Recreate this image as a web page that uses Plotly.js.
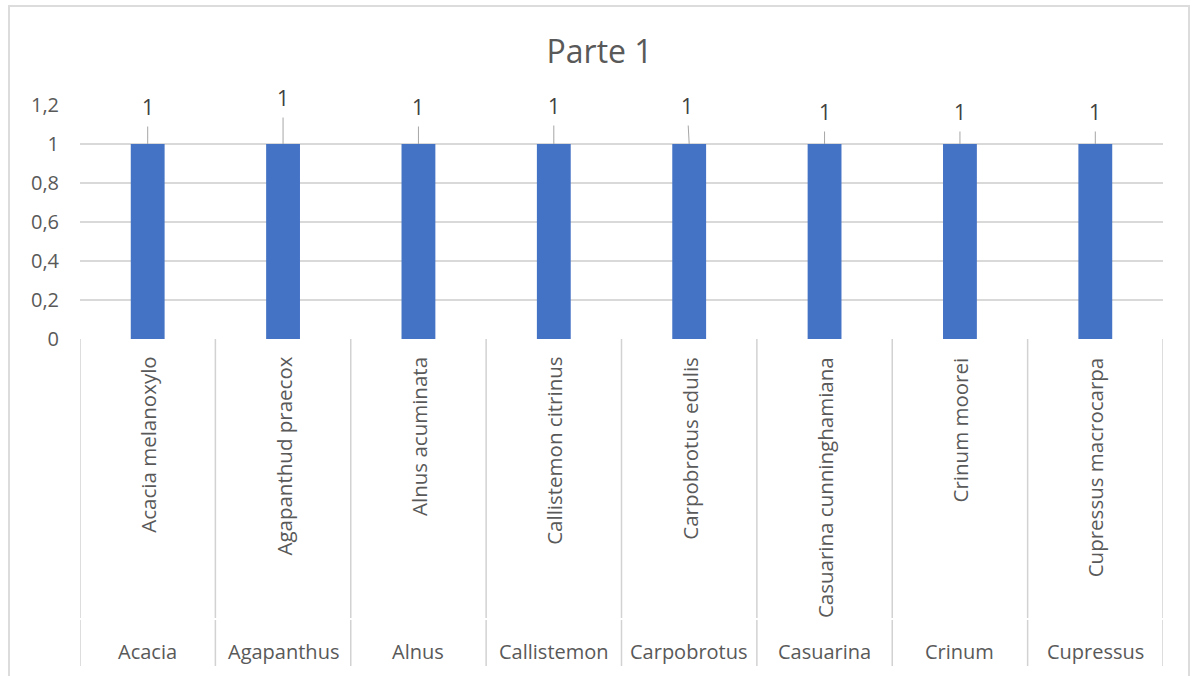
<!DOCTYPE html>
<html>
<head>
<meta charset="utf-8">
<script src="https://cdn.plot.ly/plotly-3.0.1.min.js"></script>
<style>
  html, body { margin: 0; padding: 0; background: #ffffff; }
  #chart { width: 1192px; height: 676px; position: relative; }
  #frame { position: absolute; left: 8px; top: 5px; width: 1182px; height: 690px;
           border: 2px solid #dcdcdc; box-sizing: border-box; pointer-events: none; }
</style>
</head>
<body>
<div id="chart"></div>
<div id="frame"></div>
<script>
// ---- data ----
const categories = ['Acacia melanoxylo', 'Agapanthud praecox', 'Alnus acuminata', 'Callistemon citrinus',
                    'Carpobrotus edulis', 'Casuarina cunninghamiana', 'Crinum moorei', 'Cupressus macrocarpa'];
const groups = ['Acacia', 'Agapanthus', 'Alnus', 'Callistemon', 'Carpobrotus', 'Casuarina', 'Crinum', 'Cupressus'];
const values = [1, 1, 1, 1, 1, 1, 1, 1];
const yTickValues = [0, 0.2, 0.4, 0.6, 0.8, 1, 1.2];

// ---- style (label offsets, in pixels) ----
const labelDx = [0, 0, 0, 0, -2, 0, 0, 0];
const labelDy = [-37, -46, -37, -38, -38, -32, -32, -32];

const FONT = '"Open Sans", "DejaVu Sans", sans-serif';
const TEXT = '#595959';
const GRID = '#d9d9d9';

const trace = {
  type: 'bar',
  x: categories,
  y: values,
  marker: { color: '#4472C4', line: { width: 0 } },
  hoverinfo: 'x+y'
};

const annotations = [];
categories.forEach((c, i) => {
  // data label with leader line
  annotations.push({
    x: c, y: values[i], xref: 'x', yref: 'y',
    text: String(values[i]).replace('.', ','),
    showarrow: true, arrowhead: 0, arrowwidth: 1, arrowcolor: '#a6a6a6',
    ax: labelDx[i], ay: labelDy[i], startstandoff: 4, standoff: 0,
    font: { family: FONT, size: 21, color: '#404040' }
  });
  // rotated sub-category label
  annotations.push({
    x: c, y: 0, xref: 'x', yref: 'paper',
    text: c, textangle: -90, showarrow: false,
    xanchor: 'center', yanchor: 'top', yshift: -16,
    font: { family: FONT, size: 20.5, color: TEXT }
  });
  // group label
  annotations.push({
    x: c, y: 0, xref: 'x', yref: 'paper',
    text: groups[i], showarrow: false,
    xanchor: 'center', yanchor: 'middle', yshift: -312,
    font: { family: FONT, size: 20, color: TEXT }
  });
});

const shapes = [];
for (let i = 0; i <= categories.length; i++) {
  const common = { type: 'line', xref: 'x', yref: 'paper', ysizemode: 'pixel', yanchor: 0,
                   x0: i - 0.5, x1: i - 0.5, line: { color: '#d2d2d2', width: 1.5 }, layer: 'above' };
  shapes.push(Object.assign({}, common, { y0: 0, y1: -279 }));
  shapes.push(Object.assign({}, common, { y0: -281, y1: -327 }));
}

const layout = {
  width: 1192, height: 676,
  margin: { l: 80, r: 29, t: 105, b: 337, pad: 0 },
  paper_bgcolor: '#ffffff', plot_bgcolor: '#ffffff',
  separators: ', ',
  showlegend: false,
  bargap: 0.75,
  title: { text: 'Parte 1', x: 0.503, xref: 'container', y: 1 - 52 / 676, yanchor: 'middle',
           font: { family: FONT, size: 32, color: TEXT } },
  xaxis: { type: 'category', range: [-0.5, 7.5], showticklabels: false, showgrid: false,
           zeroline: false, showline: false, ticks: '', fixedrange: true },
  yaxis: { range: [0, 1.2], tickvals: yTickValues, showgrid: true, gridcolor: GRID, gridwidth: 1.2,
           zeroline: false, showline: false, ticks: '', ticklabelstandoff: 20,
           tickfont: { family: FONT, size: 20, color: TEXT }, fixedrange: true },
  annotations: annotations,
  shapes: shapes
};

Plotly.newPlot('chart', [trace], layout, { displayModeBar: false, staticPlot: true });
</script>
</body>
</html>
